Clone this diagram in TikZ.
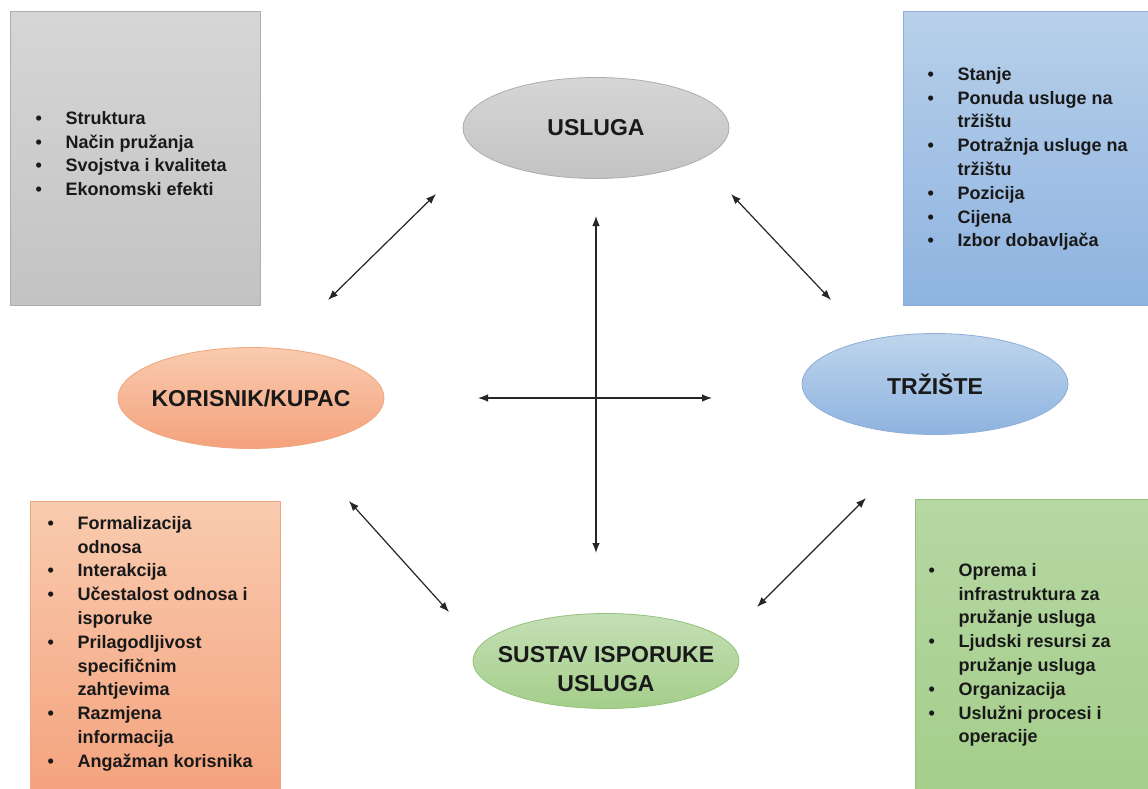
\documentclass[tikz,border=0pt]{standalone}
\usepackage{fontspec}
\setmainfont{Liberation Sans}
\usetikzlibrary{arrows.meta,shapes.geometric}
\definecolor{sivaG}{HTML}{D6D6D6}
\definecolor{sivaD}{HTML}{C3C3C3}
\definecolor{sivaR}{HTML}{ADADAD}
\definecolor{plavaG}{HTML}{B8D0EA}
\definecolor{plavaD}{HTML}{8EB3E0}
\definecolor{plavaR}{HTML}{8FAED6}
\definecolor{narG}{HTML}{F9CBAF}
\definecolor{narD}{HTML}{F4A27C}
\definecolor{narR}{HTML}{EFA67E}
\definecolor{zelG}{HTML}{B6D7A3}
\definecolor{zelD}{HTML}{A4CE8A}
\definecolor{zelR}{HTML}{93C27A}
\newcommand{\popis}[1]{\begin{tabular}{@{}p{30pt}@{}l@{}}#1\end{tabular}}
\newcommand{\tk}{\textbullet &}

\begin{document}
\begin{tikzpicture}[x=1pt,y=-1pt,<->,>={Latex[length=10pt,width=7.5pt]},line width=1.2pt,
  every edge/.append style={draw=black!85},
  kutija/.style={rectangle,anchor=north west,inner sep=0pt,line width=0.8pt},
  oval/.style={ellipse,minimum width=266pt,minimum height=101pt,line width=0.8pt,inner xsep=-7pt,inner ysep=0pt,align=center,font=\fontsize{23}{29}\selectfont\bfseries,text=black!90},
  lista/.style={anchor=north west,inner sep=0pt,font=\fontsize{18}{23.8}\selectfont\bfseries,text=black!90}]
  \clip (0,0) rectangle (1148,789);
  \fill[white] (0,0) rectangle (1148,789);
  \node[kutija,draw=sivaR,top color=sivaG,bottom color=sivaD,minimum width=250pt,minimum height=294pt] (ksiva) at (10,11) {};
  \node[kutija,draw=plavaR,top color=plavaG,bottom color=plavaD,minimum width=260pt,minimum height=294pt] (kplava) at (903,11) {};
  \node[kutija,draw=narR,top color=narG,bottom color=narD,minimum width=250pt,minimum height=300pt] (knar) at (30,501) {};
  \node[kutija,draw=zelR,top color=zelG,bottom color=zelD,minimum width=245pt,minimum height=300pt] (kzel) at (915,499) {};
  \node[lista] (lsiva) at (35,107) {\popis{\tk Struktura\\ \tk Način pružanja\\ \tk Svojstva i kvaliteta\\ \tk Ekonomski efekti}};
  \node[lista] (lplava) at (927,63) {\popis{\tk Stanje\\ \tk Ponuda usluge na\\ & tržištu\\ \tk Potražnja usluge na\\ & tržištu\\ \tk Pozicija\\ \tk Cijena\\ \tk Izbor dobavljača}};
  \node[lista] (lnar) at (47,512) {\popis{\tk Formalizacija\\ & odnosa\\ \tk Interakcija\\ \tk Učestalost odnosa i\\ & isporuke\\ \tk Prilagodljivost\\ & specifičnim\\ & zahtjevima\\ \tk Razmjena\\ & informacija\\ \tk Angažman korisnika}};
  \node[lista] (lzel) at (928,559) {\popis{\tk Oprema i\\ & infrastruktura za\\ & pružanje usluga\\ \tk Ljudski resursi za\\ & pružanje usluga\\ \tk Organizacija\\ \tk Uslužni procesi i\\ & operacije}};
  \node[oval,draw=sivaR,top color=sivaG,bottom color=sivaD] (usluga) at (596,128) {USLUGA};
  \node[oval,draw=narR,top color=narG,bottom color=narD] (korisnik) at (251,398) {KORISNIK/KUPAC};
  \node[oval,draw=plavaR,top color=plavaG!90!white,bottom color=plavaD] (trziste) at (935,384) {TRŽIŠTE};
  \node[oval,draw=zelR,top color=zelG!80!white,bottom color=zelD,minimum height=95pt,
    label={[font=\fontsize{23}{29}\selectfont\bfseries,text=black!90,align=center,yshift=-8pt]center:SUSTAV ISPORUKE\\ USLUGA}] (sustav) at (606,661) {};
  \coordinate (a1) at (328,300);
  \coordinate (a2) at (436,194);
  \coordinate (b1) at (731,194);
  \coordinate (b2) at (831,300);
  \coordinate (c1) at (478,398);
  \coordinate (c2) at (712,398);
  \coordinate (d1) at (596,216);
  \coordinate (d2) at (596,553);
  \coordinate (e1) at (349,501);
  \coordinate (e2) at (449,612);
  \coordinate (f1) at (866,498);
  \coordinate (f2) at (757,607);
  \path (a1) edge (a2);
  \path (b1) edge (b2);
  \path (c1) edge (c2);
  \path (d1) edge (d2);
  \path (e1) edge (e2);
  \path (f1) edge (f2);
\end{tikzpicture}
\end{document}
